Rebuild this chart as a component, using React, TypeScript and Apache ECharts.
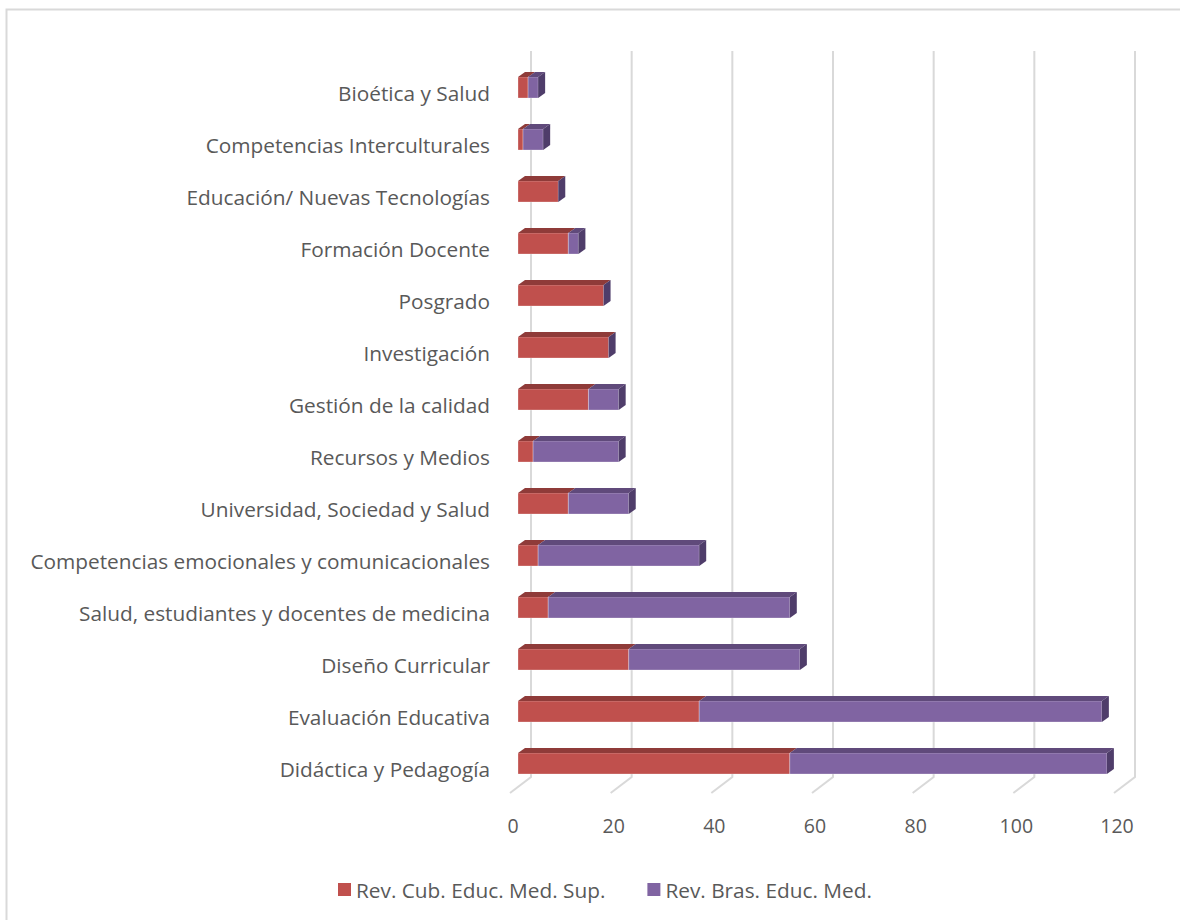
import React, { useEffect, useRef } from "react";
import * as echarts from "echarts";

const categories = [
  "Bioética y Salud",
  "Competencias Interculturales",
  "Educación/ Nuevas Tecnologías",
  "Formación Docente",
  "Posgrado",
  "Investigación",
  "Gestión de la calidad",
  "Recursos y Medios",
  "Universidad, Sociedad y Salud",
  "Competencias emocionales y comunicacionales",
  "Salud, estudiantes y docentes de medicina",
  "Diseño Curricular",
  "Evaluación Educativa",
  "Didáctica y Pedagogía",
];
const cubaValues = [2, 1, 8, 10, 17, 18, 14, 3, 10, 4, 6, 22, 36, 54];
const brasValues = [2, 4, 0, 2, 0, 0, 6, 17, 12, 32, 48, 34, 80, 63];
const seriesNames = ["Rev. Cub. Educ. Med. Sup.", "Rev. Bras. Educ. Med."];
const tickValues = [0, 20, 40, 60, 80, 100, 120];

const FONT = "Open Sans";
const TEXT = "#595959";
const FS = 20.8;
const FS_TICK = 19.5;
const BAR_H = 21;
const DX = 7;
const DY = 5;

const colors = {
  cubaFront: "#c0504d",
  cubaTop: "#8f3b39",
  brasFront: "#8064a2",
  brasTop: "#604a7b",
  brasSide: "#4f3d6a",
};

function makeBarRender(front: string, top: string, side: string | null) {
  return (params: any, api: any) => {
    const start = api.value(0);
    const end = api.value(1);
    const cat = api.value(2);
    const p0 = api.coord([start, cat]);
    const p1 = api.coord([end, cat]);
    const x0 = p0[0];
    const x1 = p1[0];
    const yTop = p0[1] - BAR_H / 2;
    const yBot = p0[1] + BAR_H / 2;
    const children: any[] = [];
    if (x1 - x0 > 0.1) {
      children.push({
        type: "rect",
        shape: { x: x0, y: yTop, width: x1 - x0, height: BAR_H },
        style: { fill: front, stroke: "rgba(255,255,255,0.35)", lineWidth: 0.8 },
      });
      children.push({
        type: "polygon",
        shape: {
          points: [
            [x0, yTop],
            [x1, yTop],
            [x1 + DX, yTop - DY],
            [x0 + DX, yTop - DY],
          ],
        },
        style: { fill: top },
      });
    }
    if (side) {
      children.push({
        type: "polygon",
        shape: {
          points: [
            [x1, yTop],
            [x1 + DX, yTop - DY],
            [x1 + DX, yBot - DY],
            [x1, yBot],
          ],
        },
        style: { fill: side },
      });
    }
    return { type: "group", children };
  };
}

export default function App() {
  const ref = useRef<HTMLDivElement>(null);
  useEffect(() => {
    document.body.style.margin = "0";
    if (!ref.current) return;
    const chart = echarts.init(ref.current, null, { renderer: "svg" });

    const cubaData = categories.map((_, i) => [0, cubaValues[i], i]);
    const brasData = categories.map((_, i) => [
      cubaValues[i],
      cubaValues[i] + brasValues[i],
      i,
    ]);
    const gridData = tickValues.map((v) => [v, 0]);

    chart.setOption({
      animation: false,
      backgroundColor: "#ffffff",
      textStyle: { fontFamily: FONT },
      graphic: [
        {
          type: "rect",
          silent: true,
          shape: { x: 6.5, y: 9.5, width: 1200, height: 950 },
          style: { fill: "none", stroke: "#d9d9d9", lineWidth: 2 },
        },
      ],
      grid: {
        left: 518,
        right: 58,
        top: 61.5,
        bottom: 130.5,
        containLabel: false,
      },
      xAxis: {
        type: "value",
        min: 0,
        max: 120,
        interval: 20,
        axisLine: { show: false },
        axisTick: { show: false },
        splitLine: { show: false },
        axisLabel: {
          color: TEXT,
          fontSize: FS_TICK,
          fontFamily: FONT,
          margin: 26,
          padding: [0, 10, 0, 0],
        },
      },
      yAxis: {
        type: "category",
        data: categories,
        inverse: true,
        axisLine: { show: false },
        axisTick: { show: false },
        splitLine: { show: false },
        axisLabel: {
          color: TEXT,
          fontSize: FS,
          fontFamily: FONT,
          margin: 28,
          verticalAlign: "top",
          lineHeight: 10,
        },
      },
      legend: {
        top: 874,
        left: 333,
        itemWidth: 13,
        itemHeight: 13,
        itemGap: 42,
        icon: "rect",
        data: seriesNames,
        textStyle: { color: TEXT, fontSize: FS, fontFamily: FONT },
      },
      series: [
        {
          type: "custom",
          name: "grid",
          silent: true,
          z: 1,
          data: gridData,
          encode: { x: 0, y: 1 },
          renderItem: (params: any, api: any) => {
            const cs = params.coordSys;
            const p = api.coord([api.value(0), 0]);
            const xb = p[0] + 13;
            const xf = p[0] - 8;
            const yTop = cs.y - 10.5;
            const yBack = cs.y + cs.height - 12.5;
            const yFront = cs.y + cs.height + 3.5;
            return {
              type: "polyline",
              shape: {
                points: [
                  [xb, yTop],
                  [xb, yBack],
                  [xf, yFront],
                ],
              },
              style: { stroke: "#d9d9d9", lineWidth: 2, fill: "none" },
            };
          },
        },
        {
          type: "custom",
          name: seriesNames[0],
          z: 3,
          itemStyle: { color: colors.cubaFront },
          data: cubaData,
          encode: { x: [0, 1], y: 2 },
          renderItem: makeBarRender(colors.cubaFront, colors.cubaTop, null),
        },
        {
          type: "custom",
          name: seriesNames[1],
          z: 3,
          itemStyle: { color: colors.brasFront },
          data: brasData,
          encode: { x: [0, 1], y: 2 },
          renderItem: makeBarRender(colors.brasFront, colors.brasTop, colors.brasSide),
        },
      ],
    });
    return () => chart.dispose();
  }, []);
  return <div ref={ref} style={{ width: 1180, height: 920 }} />;
}
